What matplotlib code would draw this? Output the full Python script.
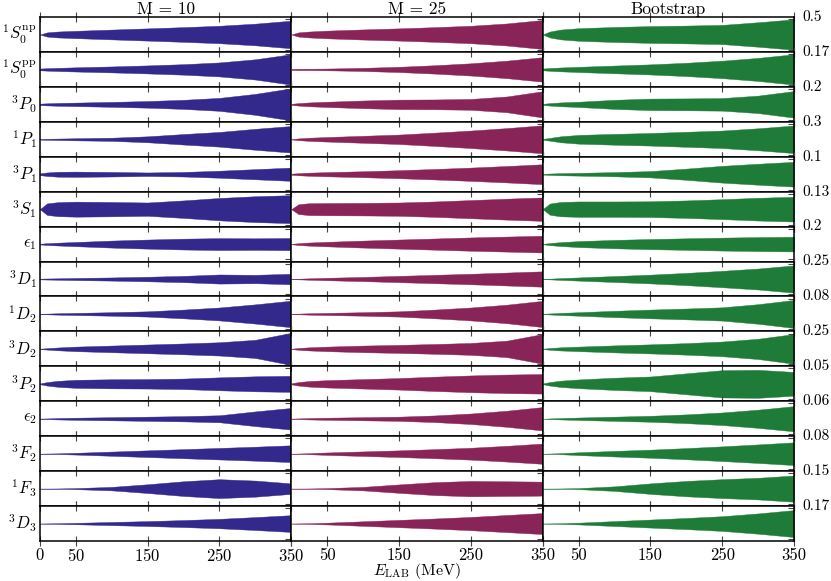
import numpy as np
import matplotlib.pyplot as plt

plt.rcParams['font.family'] = 'cmr10'
plt.rcParams['mathtext.fontset'] = 'cm'
plt.rcParams['axes.formatter.use_mathtext'] = True

energy = [0, 10, 25, 50, 100, 150, 200, 250, 300, 350]

waves = [r'$^1S_0^{\rm np}$', r'$^1S_0^{\rm pp}$', r'$^3P_0$', r'$^1P_1$', r'$^3P_1$',
         r'$^3S_1$', r'$\epsilon_1$', r'$^3D_1$', r'$^1D_2$', r'$^3D_2$',
         r'$^3P_2$', r'$\epsilon_2$', r'$^3F_2$', r'$^1F_3$', r'$^3D_3$']
scales = ['0.5', '0.17', '0.2', '0.3', '0.1', '0.13', '0.2', '0.25', '0.08', '0.25',
          '0.05', '0.06', '0.08', '0.15', '0.17']
titles = ['M = 10', 'M = 25', 'Bootstrap']
colors = ['#33298c', '#882457', '#1f7c38']

# band half-widths, relative to each row's scale
width_m10 = [
    [0.00, 0.12, 0.17, 0.21, 0.28, 0.35, 0.42, 0.50, 0.62, 0.79],
    [0.05, 0.07, 0.09, 0.12, 0.17, 0.23, 0.30, 0.40, 0.58, 0.87],
    [0.04, 0.06, 0.08, 0.10, 0.14, 0.19, 0.26, 0.37, 0.60, 0.92],
    [0.02, 0.03, 0.04, 0.06, 0.09, 0.17, 0.30, 0.42, 0.60, 0.76],
    [0.05, 0.10, 0.14, 0.15, 0.13, 0.10, 0.13, 0.20, 0.29, 0.38],
    [0.00, 0.33, 0.40, 0.43, 0.41, 0.38, 0.50, 0.64, 0.74, 0.80],
    [0.02, 0.05, 0.08, 0.12, 0.20, 0.26, 0.31, 0.34, 0.33, 0.35],
    [0.02, 0.03, 0.04, 0.06, 0.09, 0.13, 0.18, 0.26, 0.24, 0.30],
    [0.01, 0.02, 0.04, 0.06, 0.10, 0.15, 0.25, 0.37, 0.55, 0.76],
    [0.01, 0.04, 0.08, 0.13, 0.19, 0.25, 0.31, 0.38, 0.52, 0.92],
    [0.02, 0.10, 0.17, 0.23, 0.26, 0.27, 0.30, 0.37, 0.43, 0.46],
    [0.01, 0.02, 0.04, 0.06, 0.09, 0.12, 0.15, 0.20, 0.42, 0.62],
    [0.00, 0.01, 0.02, 0.05, 0.12, 0.19, 0.26, 0.33, 0.40, 0.48],
    [0.00, 0.005, 0.01, 0.03, 0.10, 0.25, 0.42, 0.54, 0.46, 0.30],
    [0.00, 0.01, 0.02, 0.04, 0.09, 0.14, 0.20, 0.27, 0.37, 0.48],
]
width_m25 = [
    [0.00, 0.12, 0.17, 0.22, 0.29, 0.35, 0.42, 0.50, 0.63, 0.83],
    [0.03, 0.04, 0.04, 0.05, 0.09, 0.15, 0.24, 0.35, 0.50, 0.70],
    [0.03, 0.07, 0.11, 0.15, 0.22, 0.27, 0.28, 0.31, 0.45, 0.75],
    [0.01, 0.05, 0.09, 0.13, 0.20, 0.27, 0.38, 0.50, 0.64, 0.80],
    [0.03, 0.06, 0.09, 0.12, 0.17, 0.23, 0.30, 0.38, 0.47, 0.57],
    [0.00, 0.28, 0.34, 0.35, 0.36, 0.38, 0.44, 0.52, 0.60, 0.67],
    [0.01, 0.05, 0.09, 0.13, 0.20, 0.26, 0.32, 0.38, 0.43, 0.48],
    [0.01, 0.02, 0.04, 0.07, 0.12, 0.18, 0.24, 0.30, 0.37, 0.44],
    [0.01, 0.02, 0.04, 0.06, 0.10, 0.15, 0.25, 0.37, 0.53, 0.75],
    [0.01, 0.05, 0.09, 0.13, 0.19, 0.23, 0.28, 0.34, 0.47, 0.85],
    [0.03, 0.10, 0.16, 0.21, 0.27, 0.33, 0.41, 0.48, 0.53, 0.56],
    [0.01, 0.02, 0.04, 0.06, 0.09, 0.12, 0.19, 0.30, 0.46, 0.67],
    [0.00, 0.01, 0.03, 0.07, 0.13, 0.19, 0.26, 0.34, 0.45, 0.58],
    [0.00, 0.005, 0.01, 0.03, 0.10, 0.24, 0.37, 0.44, 0.42, 0.40],
    [0.00, 0.01, 0.02, 0.05, 0.13, 0.21, 0.29, 0.38, 0.49, 0.60],
]
width_boot = [
    [0.00, 0.17, 0.28, 0.36, 0.43, 0.48, 0.51, 0.55, 0.70, 0.87],
    [0.05, 0.08, 0.11, 0.15, 0.22, 0.29, 0.38, 0.50, 0.66, 0.87],
    [0.03, 0.07, 0.11, 0.15, 0.26, 0.33, 0.34, 0.36, 0.50, 0.76],
    [0.02, 0.08, 0.17, 0.25, 0.31, 0.36, 0.43, 0.50, 0.63, 0.79],
    [0.02, 0.04, 0.06, 0.08, 0.12, 0.18, 0.32, 0.48, 0.60, 0.71],
    [0.00, 0.32, 0.41, 0.44, 0.44, 0.45, 0.50, 0.57, 0.65, 0.71],
    [0.01, 0.06, 0.11, 0.17, 0.24, 0.29, 0.33, 0.37, 0.40, 0.42],
    [0.01, 0.02, 0.05, 0.09, 0.17, 0.25, 0.35, 0.47, 0.60, 0.78],
    [0.01, 0.03, 0.06, 0.10, 0.18, 0.25, 0.31, 0.38, 0.56, 0.80],
    [0.01, 0.05, 0.09, 0.13, 0.20, 0.26, 0.33, 0.42, 0.58, 0.85],
    [0.02, 0.10, 0.18, 0.25, 0.35, 0.42, 0.60, 0.78, 0.80, 0.68],
    [0.00, 0.02, 0.04, 0.07, 0.12, 0.17, 0.25, 0.36, 0.52, 0.72],
    [0.00, 0.01, 0.03, 0.08, 0.16, 0.23, 0.32, 0.42, 0.53, 0.65],
    [0.00, 0.005, 0.01, 0.03, 0.13, 0.30, 0.44, 0.54, 0.62, 0.75],
    [0.00, 0.01, 0.02, 0.05, 0.14, 0.23, 0.32, 0.42, 0.58, 0.77],
]
all_widths = [width_m10, width_m25, width_boot]

nrow = len(waves)
fig, axes = plt.subplots(nrow, 3, figsize=(8.31, 5.81), dpi=100)
fig.subplots_adjust(left=0.048, right=0.9555, top=0.9707, bottom=0.0688,
                    wspace=0, hspace=0)

E = np.array(energy)
for j in range(3):
    for i in range(nrow):
        ax = axes[i, j]
        w = np.array(all_widths[j][i])
        ax.fill_between(E, -w, w, color=colors[j], lw=0.3)
        ax.set_xlim(0, 350)
        ax.set_ylim(-1, 1)
        ax.set_xticks([0, 50, 150, 250, 350])
        ax.tick_params(axis='x', direction='inout', length=7, width=0.8,
                       color='#444444', top=True, bottom=True, labelbottom=False)
        ax.set_yticks([-0.88, 0.88])
        ax.tick_params(axis='y', direction='in', length=4, width=0.8,
                       left=False, right=True, labelleft=False, color='#444444')
        for s in ax.spines.values():
            s.set_linewidth(1.1)
        if i == 0:
            ax.set_title(titles[j], fontsize=12.5, pad=1)
        if j == 0:
            ax.text(-0.012, 0.5, waves[i], transform=ax.transAxes,
                    ha='right', va='center', fontsize=12)
        if j == 2:
            ax.text(1.035, 1.0, scales[i], transform=ax.transAxes,
                    ha='left', va='center', fontsize=11)
        if i == nrow - 1:
            ax.tick_params(axis='x', labelbottom=True, labelsize=12, pad=1)
            if j > 0:
                ax.set_xticklabels(['', '50', '150', '250', '350'])

axes[-1, 1].set_xlabel(r'$E_{\rm LAB}$ (MeV)', fontsize=11.5, labelpad=-1)

plt.savefig('out.png', dpi=100)
